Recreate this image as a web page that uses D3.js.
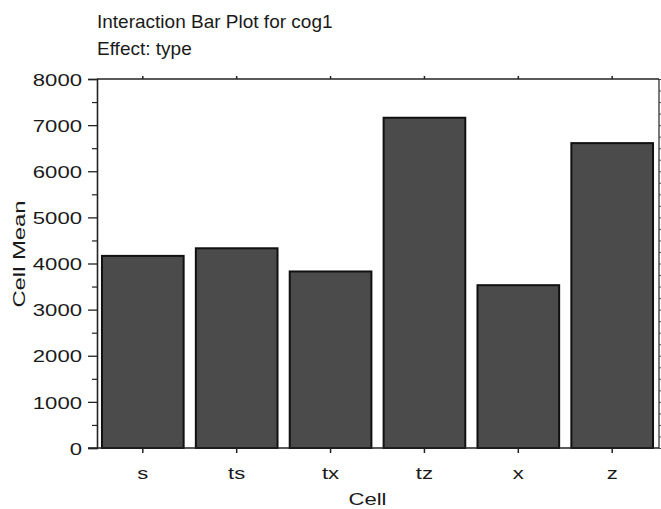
<!DOCTYPE html>
<html><head><meta charset="utf-8">
<script src="https://cdn.jsdelivr.net/npm/d3@7"></script>
<style>body{margin:0;background:#fff}svg{display:block}text{font-family:"Liberation Sans",Arial,sans-serif;fill:#1a1a1a}</style>
</head><body>
<svg id="c" width="661" height="509"></svg>
<script>
const categories = ["s","ts","tx","tz","x","z"];
const cellMeans = [4165, 4330, 3827, 7160, 3530, 6610];
const yTicks = [0,1000,2000,3000,4000,5000,6000,7000,8000];
const titleLines = ["Interaction Bar Plot for cog1","Effect: type"];

const svg = d3.select("#c");
const L=97, R=658, T=79, B=448;
const x = d3.scaleBand().domain(categories).range([L,R]).paddingInner(0.13).paddingOuter(0.053);
const y = d3.scaleLinear().domain([0,8000]).range([B,T]);

function stretch(sel, f){ sel.each(function(){ const w=this.getComputedTextLength(); d3.select(this).attr("textLength", w*f).attr("lengthAdjust","spacingAndGlyphs"); }); }

// bars
svg.append("g").selectAll("rect").data(categories).join("rect")
  .attr("x", d=>x(d)).attr("width", x.bandwidth())
  .attr("y", (d,i)=>y(cellMeans[i])).attr("height",(d,i)=>y(0)-y(cellMeans[i]))
  .attr("fill","#4b4b4b").attr("stroke","#111").attr("stroke-width",2);

// frame
const frame = svg.append("g").attr("stroke","#222").attr("fill","none");
frame.append("line").attr("x1",L).attr("x2",R+1).attr("y1",T).attr("y2",T).attr("stroke-width",1.6);
frame.append("line").attr("x1",R+1).attr("x2",R+1).attr("y1",T).attr("y2",B).attr("stroke-width",1.2);

// left axis
const yAxis = d3.axisLeft(y).tickValues(yTicks).tickSize(9).tickPadding(6).tickFormat(d3.format("d"));
const gy = svg.append("g").attr("transform",`translate(${L},0)`).call(yAxis);
gy.select(".domain").attr("stroke","#222").attr("stroke-width",1.6);
gy.selectAll(".tick line").attr("stroke","#222").attr("stroke-width",1.3);
gy.selectAll(".tick text").style("font-size","17px").attr("fill","#1a1a1a").attr("font-family",null).attr("dy","0.36em");
stretch(gy.selectAll(".tick text"),1.3);
const minor = d3.range(500,8000,1000);
svg.append("g").attr("transform",`translate(${L},0)`).call(d3.axisLeft(y).tickValues(minor).tickSize(5).tickFormat(""))
  .call(g=>{g.select(".domain").remove(); g.selectAll(".tick line").attr("stroke","#222").attr("stroke-width",1.2);});

// right axis minor ticks (outward, clipped by page edge)
svg.append("g").attr("transform",`translate(${R+1},0)`).call(d3.axisRight(y).tickValues(d3.range(0,8001,250)).tickSize(4).tickFormat(""))
  .call(g=>{g.select(".domain").remove(); g.selectAll(".tick line").attr("stroke","#444").attr("stroke-width",1);});

// top axis ticks
svg.append("g").attr("transform",`translate(0,${T})`).call(d3.axisTop(x).tickSize(3).tickFormat(""))
  .call(g=>{g.select(".domain").remove(); g.selectAll(".tick line").attr("stroke","#222").attr("stroke-width",1.5);});

// bottom axis
const gx = svg.append("g").attr("transform",`translate(0,${B})`).call(d3.axisBottom(x).tickSize(5).tickPadding(14));
gx.select(".domain").remove();
gx.append("line").attr("x1",L-9).attr("x2",R+1).attr("stroke","#222").attr("stroke-width",1.6);
gx.selectAll(".tick line").attr("stroke","#222").attr("stroke-width",1.5);
gx.selectAll(".tick text").style("font-size","17px").attr("fill","#1a1a1a").attr("font-family",null);
stretch(gx.selectAll(".tick text"),1.3);

// axis titles
const xt = svg.append("text").attr("x",(L+R)/2-10).attr("y",505).attr("text-anchor","middle").style("font-size","17px").text("Cell");
stretch(xt,1.3);
const yt = svg.append("text").attr("transform","translate(25,254) rotate(-90)").attr("text-anchor","middle").style("font-size","17px").text("Cell Mean");
stretch(yt,1.4);

// title
svg.selectAll("text.title").data(titleLines).join("text").attr("class","title")
  .attr("x",97).attr("y",(d,i)=>28+i*27).style("font-size","19px").attr("fill","#222").text(d=>d);
</script>
</body></html>
